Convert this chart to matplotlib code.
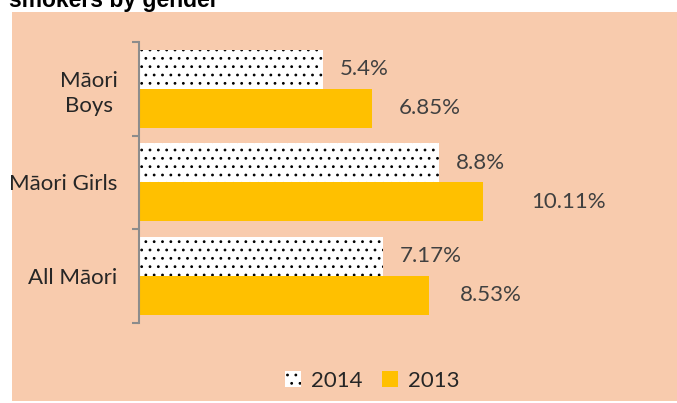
import matplotlib
matplotlib.use("Agg")
import matplotlib.pyplot as plt
from matplotlib.patches import Rectangle, Patch

categories = ["Māori\nBoys", "Māori Girls", "All Māori"]
values_2014 = [5.4, 8.8, 7.17]
values_2013 = [6.85, 10.11, 8.53]
labels_2014 = ["5.4%", "8.8%", "7.17%"]
labels_2013 = ["6.85%", "10.11%", "8.53%"]
series_names = ["2014", "2013"]
title = "smokers by gender"

# label offsets in pixels (style)
pad_2014 = [17, 17, 17]
pad_2013 = [27, 48, 31]

W, H = 677, 403
fig = plt.figure(figsize=(W / 100, H / 100), dpi=100)
fig.patch.set_facecolor("white")

peach = "#F8CBAD"
orange = "#FFC000"
txt = "#404040"
font = "Lato"

fig.patches.append(Rectangle((12 / W, 2 / H), (W - 12) / W, (401 - 12) / H,
                             transform=fig.transFigure, facecolor=peach,
                             edgecolor="none", zorder=-10))

fig.text(9 / W, 1 - 7 / H, title, fontsize=16.5, fontweight="bold",
         family="Liberation Sans", va="baseline", ha="left", color="black")

x0, x1 = 138.5, 660
ytop, ybot = 42, 322.5
ax = fig.add_axes([x0 / W, 1 - ybot / H, (x1 - x0) / W, (ybot - ytop) / H])
ax.set_facecolor("none")
ax.set_xlim(0, (x1 - x0) / 34.1)
ax.set_ylim(2.5, -0.5)

pos = list(range(len(categories)))
h = 0.415
off = 0.208
matplotlib.rcParams["hatch.color"] = "#1a1a1a"
matplotlib.rcParams["hatch.linewidth"] = 0.8
b1 = ax.barh([p - off for p in pos], values_2014, height=h, color="white",
             hatch="..", edgecolor="black", linewidth=0, label=series_names[0])
b2 = ax.barh([p + off for p in pos], values_2013, height=h, color=orange,
             edgecolor="none", label=series_names[1])

for i, p in enumerate(pos):
    ax.annotate(labels_2014[i], (values_2014[i], p - off), xytext=(pad_2014[i] * 0.72, 0),
                textcoords="offset points", va="center", ha="left",
                fontsize=16, family=font, color=txt)
    ax.annotate(labels_2013[i], (values_2013[i], p + off), xytext=(pad_2013[i] * 0.72, 0),
                textcoords="offset points", va="center", ha="left",
                fontsize=16, family=font, color=txt)

for s in ["top", "right", "bottom"]:
    ax.spines[s].set_visible(False)
ax.spines["left"].set_color("#8C8C8C")
ax.spines["left"].set_linewidth(1.5)
ax.set_xticks([])
ax.set_yticks(pos)
ax.set_yticklabels(categories, family=font, fontsize=16, color="#262626",
                   multialignment="center", linespacing=1.3)
ax.tick_params(axis="y", which="major", length=0, pad=15)
ax.set_yticks([-0.5, 0.5, 1.5, 2.5], minor=True)
ax.tick_params(axis="y", which="minor", length=5, width=1.5, color="#8C8C8C")

handles = [Patch(facecolor="white", hatch="..", edgecolor="black", linewidth=0),
           Patch(facecolor=orange, edgecolor="none")]
fig.legend(handles, series_names, loc="center", bbox_to_anchor=(372 / W, 1 - 381 / H),
           ncol=2, frameon=False, prop={"family": font, "size": 16},
           handlelength=0.7, handleheight=0.7, handletextpad=0.45,
           columnspacing=0.9, labelcolor="#262626")

fig.savefig("out.png", dpi=100, facecolor="white")
